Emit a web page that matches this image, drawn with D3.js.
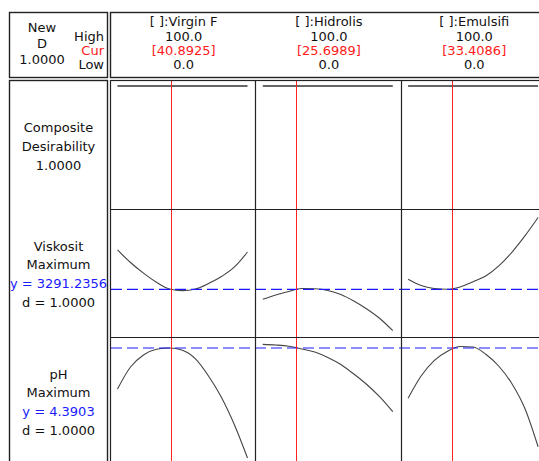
<!DOCTYPE html>
<html>
<head>
<meta charset="utf-8">
<script src="https://cdn.jsdelivr.net/npm/d3@7"></script>
<style>
	body { margin: 0; background: #fff; }
	svg { display: block; font-family: "DejaVu Sans", sans-serif; font-size: 13px; }
</style>
</head>
<body>
<script>
var width = 539;
var height = 461;

// factors (columns)
var factorNames = ["[ ]:Virgin F", "[ ]:Hidrolis", "[ ]:Emulsifi"];
var factorHigh = ["100.0", "100.0", "100.0"];
var factorCur = ["[40.8925]", "[25.6989]", "[33.4086]"];
var factorLow = ["0.0", "0.0", "0.0"];
var curSettings = [40.8925, 25.6989, 33.4086];

// x grid of the factor traces
var xGrid = [0, 10, 20, 30, 40, 50, 60, 70, 80, 90, 100];

// composite desirability over each factor
var desirVirgin = [1, 1, 1, 1, 1, 1, 1, 1, 1, 1, 1];
var desirHidrolis = [1, 1, 1, 1, 1, 1, 1, 1, 1, 1, 1];
var desirEmulsifi = [1, 1, 1, 1, 1, 1, 1, 1, 1, 1, 1];

// Viskosit traces
var viskVirgin = [3734, 3593, 3473, 3370, 3295, 3277, 3295, 3356, 3435, 3543, 3711];
var viskHidrolis = [3179, 3228, 3267, 3301, 3297, 3278, 3233, 3160, 3070, 2963, 2826];
var viskEmulsifi = [3404, 3334, 3301, 3292, 3318, 3377, 3444, 3557, 3711, 3895, 4099];

// pH traces
var phVirgin = [3.922, 4.173, 4.310, 4.375, 4.390, 4.364, 4.265, 4.070, 3.825, 3.511, 3.134];
var phHidrolis = [4.432, 4.424, 4.410, 4.379, 4.344, 4.282, 4.202, 4.093, 3.973, 3.831, 3.663];
var phEmulsifi = [3.816, 4.070, 4.247, 4.350, 4.407, 4.402, 4.316, 4.179, 3.979, 3.694, 3.263];

// response rows
var rowLabels = [
	["Composite", "Desirability", "1.0000"],
	["Viskosit", "Maximum", "y = 3291.2356", "d = 1.0000"],
	["pH", "Maximum", "y = 4.3903", "d = 1.0000"]
];
var rowCurrent = [null, 3291.2356, 4.3903];
var rowDomains = [[0, 1], [2800, 4150], [3.1, 4.47]];
var rowTraces = [
	[desirVirgin, desirHidrolis, desirEmulsifi],
	[viskVirgin, viskHidrolis, viskEmulsifi],
	[phVirgin, phHidrolis, phEmulsifi]
];

var headTop = 12, headBottom = 77;
var gridTop = 81, rowHeight = 128;
var labelLeft = 9, labelRight = 107;
var gridLeft = 111, colWidth = 145.3;

var svg = d3.select("body").append("svg")
		.attr("width", width).attr("height", height);

function colLeft(i) {
	return gridLeft + i * colWidth;
}

function xScale(i) {
	return d3.scaleLinear().domain([0, 100])
			.range([colLeft(i) + 6.5, colLeft(i) + 136.5]);
}

function yScale(r) {
	var top = gridTop + r * rowHeight;
	return d3.scaleLinear().domain(rowDomains[r])
			.range([top + 124, r === 0 ? top + 5 : top + 4]);
}

// ---- header ----
var corner = svg.append("g");
var cx = 42;
[["New", 27.5], ["D", 43.5], ["1.0000", 59]].forEach(function(t) {
	corner.append("text").attr("x", cx).attr("y", t[1]).attr("dy", "0.35em")
			.attr("text-anchor", "middle").attr("fill", "#111").text(t[0]);
});
[["High", 36.5, "#111"], ["Cur", 50.5, "#ff1a1a"], ["Low", 64, "#111"]].forEach(function(t) {
	corner.append("text").attr("x", 104).attr("y", t[1]).attr("dy", "0.35em")
			.attr("text-anchor", "end").attr("fill", t[2]).text(t[0]);
});

factorNames.forEach(function(name, i) {
	var mid = colLeft(i) + colWidth / 2;
	var lines = [[name, 21.5, "#111"], [factorHigh[i], 36.5, "#111"],
			[factorCur[i], 50.5, "#ff1a1a"], [factorLow[i], 64, "#111"]];
	lines.forEach(function(t) {
		svg.append("text").attr("x", mid).attr("y", t[1]).attr("dy", "0.35em")
				.attr("text-anchor", "middle").attr("fill", t[2]).text(t[0]);
	});
});

// ---- row labels ----
rowLabels.forEach(function(lines, r) {
	var center = gridTop + r * rowHeight + 65.2;
	lines.forEach(function(txt, k) {
		var yy = center + (k - (lines.length - 1) / 2) * 18.8;
		svg.append("text").attr("x", (labelLeft + labelRight) / 2 + 0.5).attr("y", yy)
				.attr("dy", "0.35em").attr("text-anchor", "middle")
				.attr("fill", txt.indexOf("y =") === 0 ? "#1a1aff" : "#111")
				.text(txt);
	});
});

// ---- traces ----
rowTraces.forEach(function(traces, r) {
	var y = yScale(r);
	traces.forEach(function(vals, i) {
		var x = xScale(i);
		var line = d3.line()
				.x(function(d, k) { return x(xGrid[k]); })
				.y(function(d) { return y(d); })
				.curve(d3.curveMonotoneX);
		svg.append("path").datum(vals)
				.attr("d", line)
				.attr("fill", "none")
				.attr("stroke", r === 0 ? "#666" : "#444")
				.attr("stroke-width", r === 0 ? 2 : 1.1);
	});
});

// current response values (blue dashed)
rowCurrent.forEach(function(v, r) {
	if (v === null) return;
	var yy = yScale(r)(v);
	svg.append("line")
			.attr("x1", gridLeft).attr("x2", width)
			.attr("y1", yy).attr("y2", yy)
			.attr("stroke", "#1a1aff").attr("stroke-width", 1.2)
			.attr("stroke-dasharray", "11,5");
});

// current factor settings (red)
curSettings.forEach(function(v, i) {
	var xx = Math.round(xScale(i)(v)) + 0.5;
	svg.append("line")
			.attr("x1", xx).attr("x2", xx)
			.attr("y1", gridTop).attr("y2", height)
			.attr("stroke", "#ff2020").attr("stroke-width", 1);
});

// ---- frames ----
var frame = svg.append("g").attr("fill", "none").attr("stroke", "#222");
frame.append("rect").attr("x", labelLeft + 0.5).attr("y", headTop + 0.5)
		.attr("width", labelRight - labelLeft).attr("height", headBottom - headTop)
		.attr("stroke-width", 1.4);
frame.append("rect").attr("x", gridLeft - 0.5).attr("y", headTop + 0.5)
		.attr("width", 480).attr("height", headBottom - headTop)
		.attr("stroke-width", 1.4);
frame.append("rect").attr("x", labelLeft + 0.5).attr("y", gridTop - 0.5)
		.attr("width", labelRight - labelLeft).attr("height", 450)
		.attr("stroke-width", 1.4);
frame.append("rect").attr("x", gridLeft - 0.5).attr("y", gridTop - 0.5)
		.attr("width", 480).attr("height", 450)
		.attr("stroke-width", 1.2);

[1, 2].forEach(function(i) {
	var xx = Math.round(colLeft(i)) - 0.5;
	frame.append("line").attr("x1", xx).attr("x2", xx)
			.attr("y1", gridTop).attr("y2", height).attr("stroke-width", 1.2);
});
[1, 2].forEach(function(r) {
	var yy = gridTop + r * rowHeight + 0.5;
	frame.append("line").attr("x1", gridLeft).attr("x2", width)
			.attr("y1", yy).attr("y2", yy).attr("stroke-width", 1.2);
});
</script>
</body>
</html>
